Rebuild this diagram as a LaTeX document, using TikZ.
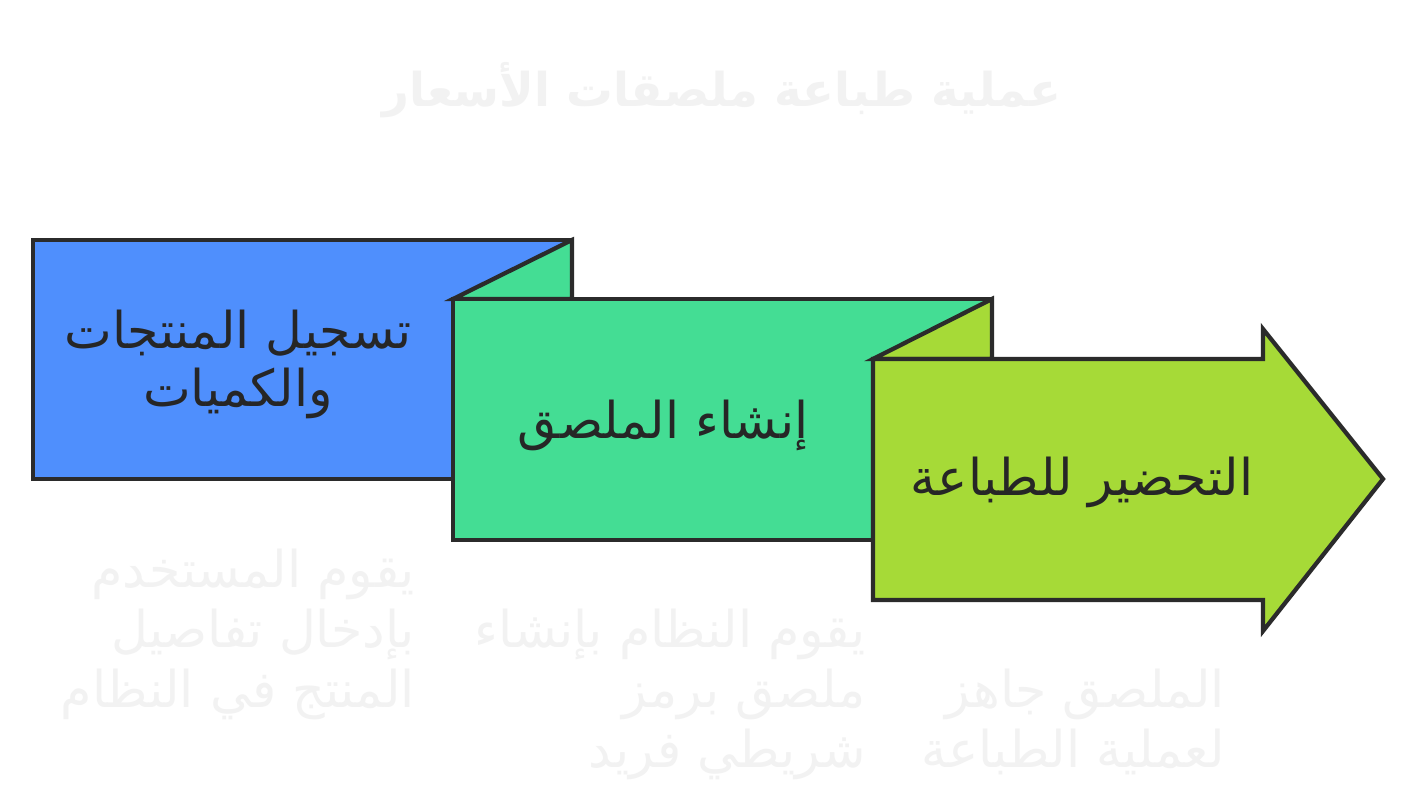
\documentclass[tikz,border=0pt]{standalone}
\usepackage{fontspec}
\newfontfamily\arabicfont[Script=Arabic]{DejaVu Sans}
\TeXXeTstate=1
\definecolor{cblue}{HTML}{4F8FFD}
\definecolor{cgreen}{HTML}{44DD94}
\definecolor{clime}{HTML}{A6DA37}
\definecolor{cline}{HTML}{2B2B2B}
\definecolor{ctext}{HTML}{262626}
\definecolor{cfaint}{HTML}{F2F2F2}
\tikzset{
  stepshape/.style={draw=cline, line width=3.2pt, line join=miter},
  steplabel/.style={font=\arabicfont\fontsize{38}{43.5}\selectfont, text=ctext, align=center, inner sep=0pt},
  desclabel/.style={font=\arabicfont\fontsize{38}{45}\selectfont, text=cfaint, align=right, inner sep=0pt, anchor=north east},
  titlelabel/.style={font=\arabicfont\bfseries\fontsize{35}{42}\selectfont, text=cfaint, inner sep=0pt}
}
\begin{document}
\begin{tikzpicture}[x=0.75pt,y=-0.75pt]
\useasboundingbox[fill=white] (0,0) rectangle (1415,810);
% title
\node[titlelabel] (title) at (722,90) {\beginR عملية طباعة ملصقات الأسعار\endR};
% step 1
\path[stepshape, fill=cblue] (33,240) rectangle (572,479);
\path[stepshape, fill=cgreen] (453,299) -- (572,240) -- (572,299) -- cycle;
% step 2
\path[stepshape, fill=cgreen] (453,299) rectangle (992,540);
\path[stepshape, fill=clime] (873,359) -- (992,299) -- (992,359) -- cycle;
% step 3
\path[stepshape, fill=clime] (873,359) -- (1263,359) -- (1263,329) -- (1383,479) -- (1263,631) -- (1263,600) -- (873,600) -- cycle;
% labels
\node[steplabel] (s1) at (238,364) {\beginR تسجيل المنتجات\endR\\\beginR والكميات\endR};
\node[steplabel] (s2) at (663,425) {\beginR إنشاء الملصق\endR};
\node[steplabel] (s3) at (1082,482) {\beginR التحضير للطباعة\endR};
% descriptions
\node[desclabel] (d1) at (415,549) {\beginR يقوم المستخدم\endR\\\beginR بإدخال تفاصيل\endR\\\beginR المنتج في النظام\endR};
\node[desclabel] (d2) at (866,609) {\beginR يقوم النظام بإنشاء\endR\\\beginR ملصق برمز\endR\\\beginR شريطي فريد\endR};
\node[desclabel] (d3) at (1225,669) {\beginR الملصق جاهز\endR\\\beginR لعملية الطباعة\endR};
\end{tikzpicture}
\end{document}
